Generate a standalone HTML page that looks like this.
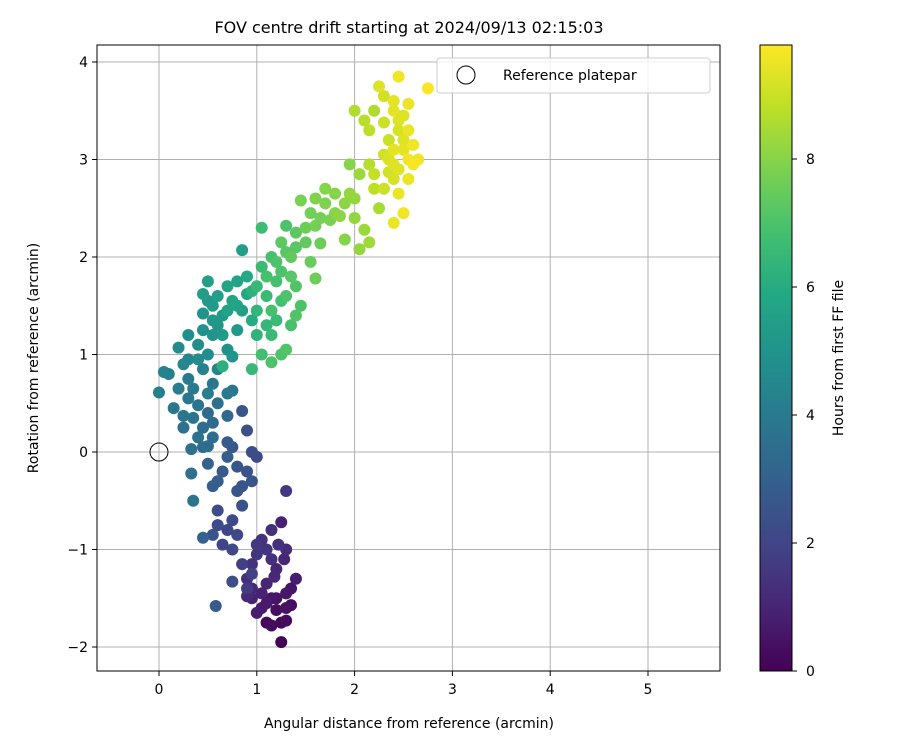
<!DOCTYPE html>
<html><head><meta charset="utf-8"><style>
body{margin:0;background:#fff;font-family:"Liberation Sans","DejaVu Sans",sans-serif}
</style></head><body>
<svg id="chart" width="900" height="750" xmlns="http://www.w3.org/2000/svg" font-family="DejaVu Sans, Liberation Sans, sans-serif">
<defs><linearGradient id="vir" x1="0" y1="1" x2="0" y2="0">
<stop offset="0" stop-color="#440154"/><stop offset="0.1" stop-color="#482475"/><stop offset="0.2" stop-color="#414487"/><stop offset="0.3" stop-color="#355f8d"/><stop offset="0.4" stop-color="#2a788e"/><stop offset="0.5" stop-color="#21918c"/><stop offset="0.6" stop-color="#22a884"/><stop offset="0.7" stop-color="#44bf70"/><stop offset="0.8" stop-color="#7ad151"/><stop offset="0.9" stop-color="#bddf26"/><stop offset="1" stop-color="#fde725"/></linearGradient></defs>
<text x="409" y="33" font-size="16" text-anchor="middle">FOV centre drift starting at 2024/09/13 02:15:03</text>
<g id="grid"></g><g id="pts"></g>
<rect x="97" y="45" width="623" height="626" fill="none" stroke="#000" stroke-width="1"/>
<g id="axes"></g>
<text x="409" y="728" font-size="14" text-anchor="middle">Angular distance from reference (arcmin)</text>
<text transform="translate(38,358) rotate(-90)" font-size="14" text-anchor="middle">Rotation from reference (arcmin)</text>
<g>
<rect x="437" y="58" width="273" height="35" rx="3" fill="#fff" fill-opacity="0.8" stroke="#ccc"/>
<circle cx="466" cy="75" r="9" fill="none" stroke="#000"/>
<text x="503" y="80" font-size="14">Reference platepar</text></g>
<rect x="760" y="45" width="32" height="626" fill="url(#vir)" stroke="#000"/>
<g id="cbticks"></g>
<text transform="translate(843,358) rotate(-90)" font-size="14" text-anchor="middle">Hours from first FF file</text>
</svg>
<script>
const xTicks=[0,1,2,3,4,5];
const yTicks=[-2,-1,0,1,2,3,4];
const cbTicks=[0,2,4,6,8];
const xs=[1.25,1.15,1.25,1.3,1.35,1.4,1.3,1.2,1.05,1.0,0.95,1.1,1.2,1.3,1.25,1.15,1.05,1.0,0.9,0.95,1.3,1.1,1.15,1.35,0.9,1.0,1.28,1.18,
0.58,0.75,0.75,0.6,0.7,0.8,0.45,0.55,0.85,0.85,0.95,1.0,0.95,0.9,0.85,0.75,0.7,0.6,0.55,0.65,0.8,0.5,0.95,0.85,0.9,
0.35,0.33,0.33,0.45,0.5,0.25,0.25,0.35,0.45,0.5,0.7,0.4,0.3,0.0,0.05,0.1,0.2,0.3,0.45,0.55,0.7,0.75,0.2,0.3,0.6,0.55,
0.3,0.4,0.45,0.5,0.5,0.45,0.55,0.6,0.55,0.5,0.7,0.75,0.8,0.85,0.85,0.8,0.9,0.7,0.65,0.4,0.55,0.75,0.65,0.95,
0.95,1.05,1.15,1.25,1.3,1.0,1.1,1.2,1.35,1.45,1.4,1.25,1.1,1.0,0.95,1.2,1.35,1.05,1.15,1.25,1.05,1.3,1.4,1.55,1.6,1.3,1.15,
1.35,1.5,1.45,1.6,1.7,1.65,1.8,1.9,1.95,1.95,2.05,1.9,2.05,2.1,2.15,1.75,1.85,2.0,2.25,1.6,1.4,1.65,2.0,2.1,2.2,2.15,
2.25,2.3,2.45,2.4,2.55,2.5,2.3,2.35,2.45,2.5,2.55,2.6,2.45,2.4,2.3,2.35,2.2,2.45,2.5,2.4,2.75,2.65,2.55,2.3,2.5,2.4,
1.1,1.2,1.05,1.15,1.22,0.95,1.3,1.1,0.65,0.75,0.8,0.7,0.6,0.9,0.4,0.55,0.35,0.5,0.6,0.15,0.25,0.6,0.65,0.8,0.9,0.7,0.45,
1.1,1.2,1.3,1.4,1.0,1.15,1.5,1.25,1.7,1.8,2.0,1.55,2.15,2.2,2.4,2.45,2.55,2.35,2.6,2.4];
const ys=[-1.95,-1.78,-1.75,-1.73,-1.57,-1.3,-1.45,-1.5,-1.6,-1.65,-1.5,-1.35,-1.2,-1.0,-0.72,-0.8,-0.9,-1.05,-1.3,-1.15,-0.4,-1.0,-1.5,-1.4,-1.48,-0.95,-1.1,-1.28,
-1.58,-1.33,-1.0,-0.75,-0.8,-0.85,-0.88,-0.85,-0.55,-0.35,-0.3,-0.05,0.0,0.22,0.42,0.05,0.1,-0.3,-0.35,-0.2,-0.15,-0.12,-1.25,-1.15,-1.4,
-0.5,-0.22,0.03,0.05,0.06,0.25,0.37,0.35,0.25,0.4,0.37,0.48,0.55,0.61,0.82,0.8,0.65,0.75,0.85,0.7,0.6,0.63,1.07,0.95,0.5,0.3,
1.2,1.1,1.42,1.55,1.75,1.62,1.5,1.3,1.2,1.0,1.05,0.98,1.25,1.45,2.07,1.75,1.62,1.45,1.2,0.95,1.35,1.55,0.88,1.35,
0.85,1.0,0.92,1.0,1.05,1.2,1.3,1.35,1.3,1.5,1.4,1.55,1.6,1.7,1.65,1.75,1.8,1.9,2.0,2.15,2.3,2.32,2.1,1.95,1.78,1.6,1.45,
2.0,2.3,2.58,2.6,2.7,2.4,2.45,2.55,2.65,2.95,2.85,2.18,2.08,2.28,2.15,2.38,2.42,2.6,2.5,2.32,2.25,2.14,3.5,3.4,3.5,3.3,
3.75,3.65,3.85,3.5,3.57,3.45,3.38,3.2,3.3,3.1,3.0,2.95,2.9,2.8,2.7,2.87,2.85,2.65,2.45,2.35,3.73,3.0,2.8,3.05,3.2,3.1,
-1.75,-1.62,-1.45,-1.1,-0.95,-1.4,-1.6,-1.55,-0.95,-0.7,-0.4,-0.05,-0.6,-0.2,0.15,0.15,0.65,0.6,0.85,0.45,0.9,1.6,1.4,1.5,1.8,1.7,1.25,
1.8,1.95,2.05,1.7,1.45,1.2,2.15,1.85,2.55,2.65,2.4,2.45,2.95,2.7,3.6,3.4,3.3,3.0,3.15,2.95];
const hours=[0.1,0.3,0.2,0.3,0.4,0.8,0.6,0.5,0.7,0.8,0.9,1.0,1.1,1.2,0.9,1.3,1.4,1.5,1.3,1.4,1.6,1.5,0.6,0.5,1.2,1.6,1.0,1.1,
2.8,2.3,2.1,2.2,2.0,2.1,3.0,2.5,2.4,2.5,2.6,2.2,2.3,2.4,2.6,2.7,2.8,2.9,2.9,2.7,2.6,3.1,1.9,1.8,1.7,
3.7,3.6,3.6,3.5,3.4,3.6,3.8,3.7,3.5,3.4,3.3,3.7,3.9,4.2,4.3,4.2,4.1,4.0,4.3,3.9,4.0,3.8,4.6,4.5,3.6,3.4,
4.8,4.8,5.0,5.2,5.5,5.4,5.3,5.1,5.0,4.7,4.9,5.0,5.2,5.5,5.4,5.6,5.8,5.6,5.3,4.6,5.2,5.7,6.2,6.0,
6.5,6.8,7.0,7.0,7.1,6.3,6.4,6.6,6.9,7.0,7.1,6.8,6.6,6.5,6.2,6.9,7.2,6.6,6.9,7.3,6.7,7.0,7.2,7.5,7.6,7.0,6.9,
7.4,7.6,7.8,7.9,8.0,7.7,8.0,8.1,8.2,8.0,8.3,8.0,8.2,8.3,8.4,7.8,8.1,8.2,8.5,7.7,7.3,7.6,8.6,8.7,8.6,8.8,
9.3,9.1,9.6,9.4,9.5,9.3,9.0,9.0,9.2,9.4,9.6,9.7,9.3,9.2,9.0,9.1,8.9,9.5,9.6,9.5,9.7,9.6,9.5,9.1,9.3,9.4,
0.2,0.4,0.9,1.3,1.4,1.1,0.5,0.7,2.0,2.2,2.6,2.9,2.3,2.5,3.6,3.5,4.0,4.1,4.4,3.9,4.5,5.5,5.3,5.6,5.9,5.7,4.9,
6.9,7.0,7.2,7.1,6.4,6.6,7.4,7.0,7.9,8.0,8.2,7.7,8.7,8.8,9.4,9.3,9.5,9.2,9.6,9.3];
const NS='http://www.w3.org/2000/svg';
const X=v=>159+v*97.8, Y=v=>452-v*97.5, C=h=>671-h*64;
const vir=[[68,1,84],[72,36,117],[65,68,135],[53,95,141],[42,120,142],[33,145,140],[34,168,132],[68,191,112],[122,209,81],[189,223,38],[253,231,37]];
function col(t){t=Math.max(0,Math.min(1,t))*(vir.length-1);const i=Math.min(vir.length-2,Math.floor(t)),f=t-i;
return 'rgb('+vir[i].map((c,k)=>Math.round(c+(vir[i+1][k]-c)*f)).join(',')+')';}
function mk(tag,a,parent){const e=document.createElementNS(NS,tag);for(const k in a)e.setAttribute(k,a[k]);parent.appendChild(e);return e;}
const g=document.getElementById('grid'),ax=document.getElementById('axes'),pts=document.getElementById('pts'),cb=document.getElementById('cbticks');
xTicks.forEach(t=>{const l=mk('line',{x1:X(t),x2:X(t),y1:45,y2:671,stroke:'#b0b0b0','stroke-width':1},g);


mk('line',{x1:X(t),x2:X(t),y1:671,y2:676,stroke:'#000'},ax);
const tx=mk('text',{x:X(t),y:694,'font-size':14,'text-anchor':'middle'},ax);tx.textContent=t;

});
yTicks.forEach(t=>{const l=mk('line',{x1:97,x2:720,y1:Y(t),y2:Y(t),stroke:'#b0b0b0','stroke-width':1},g);


mk('line',{x1:92,x2:97,y1:Y(t),y2:Y(t),stroke:'#000'},ax);
const tx=mk('text',{x:88,y:Y(t)+5,'font-size':14,'text-anchor':'end'},ax);tx.textContent=t<0?'\u2212'+(-t):t;

});
cbTicks.forEach(t=>{mk('line',{x1:792,x2:797,y1:C(t),y2:C(t),stroke:'#000'},cb);
const tx=mk('text',{x:806,y:C(t)+5,'font-size':14},cb);tx.textContent=t;

});
const order=xs.map((_,i)=>i).sort((a,b)=>hours[a]-hours[b]);
order.forEach(i=>{const c=mk('circle',{cx:X(xs[i]),cy:Y(ys[i]),r:6,fill:col(hours[i]/9.78)},pts);

});
const r=mk('circle',{cx:X(0),cy:Y(0),r:9,fill:'none',stroke:'#000'},pts);


</script>
</body></html>
